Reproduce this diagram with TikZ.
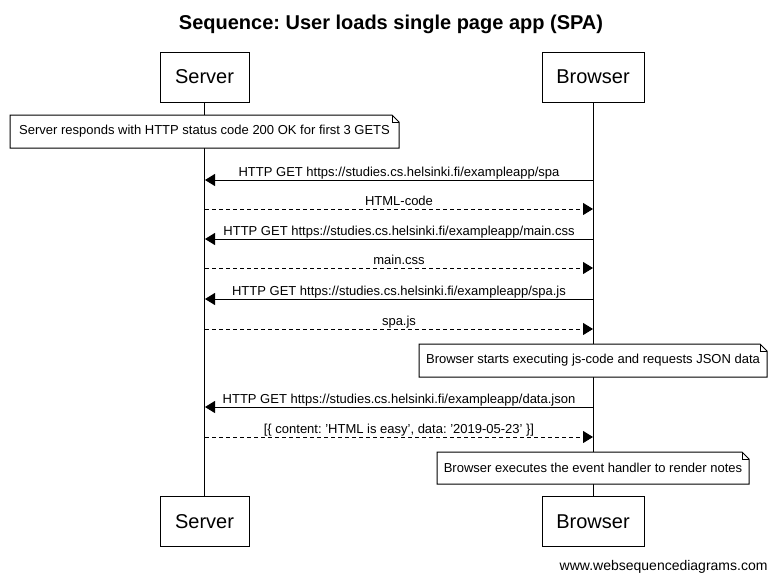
\documentclass[tikz,border=0pt]{standalone}
\usepackage{fontspec}
\setmainfont{Liberation Sans}
\usetikzlibrary{arrows.meta}
\frenchspacing
\newcommand\notebox[4]{%
  \draw[fill=white] (#1,#2) -- ({#3-7},#2) -- (#3,{#2+7}) -- (#3,#4) -- (#1,#4) -- cycle;
  \draw ({#3-7},#2) -- ({#3-7},{#2+7}) -- (#3,{#2+7});}
\newcommand\sq{\symbol{39}}
\begin{document}
\begin{tikzpicture}[x=1pt,y=-1pt,line width=1pt,
  actor/.style={draw,fill=white,minimum height=50pt,inner sep=0pt,font=\fontsize{20}{24}\selectfont},
  msg/.style={-{Triangle[length=10pt,width=12pt]}},
  reply/.style={msg,dash pattern=on 4pt off 3pt},
  lbl/.style={font=\fontsize{13}{15}\selectfont,inner sep=0pt,anchor=base},
  notetext/.style={font=\fontsize{13}{15}\selectfont,inner sep=0pt}]
\useasboundingbox[fill=white] (0,0) rectangle (778,581);

\node[font=\bfseries\fontsize{20}{24}\selectfont,anchor=base] (title) at (391,29) {Sequence: User loads single page app (SPA)};

\node[actor,minimum width=89pt] (st) at (204.5,77) {Server};
\node[actor,minimum width=102pt] (bt) at (593,77) {Browser};
\node[actor,minimum width=89pt] (sb) at (204.5,521.5) {Server};
\node[actor,minimum width=102pt] (bb) at (593,521.5) {Browser};

\draw (st.south) -- (sb.north);
\draw (bt.south) -- (bb.north);

% note 1
\notebox{10}{115}{399}{148}
\node[notetext] (n1) at (204.5,131.5) {Server responds with HTTP status code 200 OK for first 3 GETS};

% messages
\foreach \y/\n in {180/1,209/2,239/3,268/4,299/5,329/6,407/7,437/8} {
  \coordinate (s\n) at (205,\y);
  \coordinate (b\n) at (593,\y);
}
\draw[msg] (b1) -- (s1);
\node[lbl] (l1) at (399,176) {HTTP GET https://studies.cs.helsinki.fi/exampleapp/spa};
\draw[reply] (s2) -- (b2);
\node[lbl] (l2) at (399,205) {HTML-code};
\draw[msg] (b3) -- (s3);
\node[lbl] (l3) at (399,235) {HTTP GET https://studies.cs.helsinki.fi/exampleapp/main.css};
\draw[reply] (s4) -- (b4);
\node[lbl] (l4) at (399,264) {main.css};
\draw[msg] (b5) -- (s5);
\node[lbl] (l5) at (399,295) {HTTP GET https://studies.cs.helsinki.fi/exampleapp/spa.js};
\draw[reply] (s6) -- (b6);
\node[lbl] (l6) at (399,325) {spa.js};

% note 2
\notebox{419}{344}{767}{377}
\node[notetext] (n2) at (593,360.5) {Browser starts executing js-code and requests JSON data};

\draw[msg] (b7) -- (s7);
\node[lbl] (l7) at (399,403) {HTTP GET https://studies.cs.helsinki.fi/exampleapp/data.json};
\draw[reply] (s8) -- (b8);
\node[lbl] (l8) at (399,433) {[\{ content: \sq HTML is easy\sq, data: \sq 2019-05-23\sq\ \}]};

% note 3
\notebox{437}{452}{749}{484}
\node[notetext] (n3) at (593,468) {Browser executes the event handler to render notes};

\node[font=\fontsize{14}{16}\selectfont,anchor=base east,inner sep=0pt] (footer) at (768,570) {www.websequencediagrams.com};
\end{tikzpicture}
\end{document}
